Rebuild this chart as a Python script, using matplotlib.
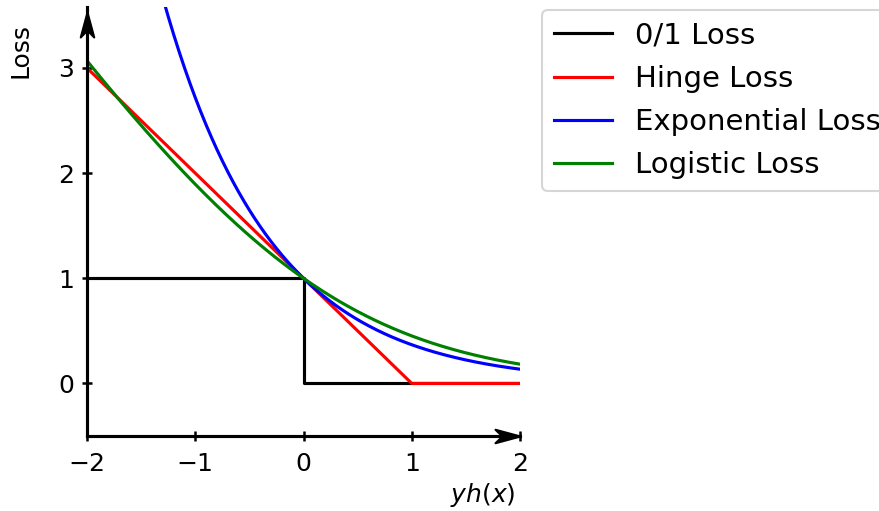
import numpy as np
import matplotlib
matplotlib.use("Agg")
import matplotlib.pyplot as plt
from matplotlib.path import Path

# margin values yh(x) on which the losses are evaluated
margin = np.linspace(-2, 2, 401)

# 0/1 loss as a step: 1 left of zero, 0 right of zero
zero_one_x = [-2, 0, 0, 2]
zero_one_y = [1, 1, 0, 0]

loss_names = ["0/1 Loss", "Hinge Loss", "Exponential Loss", "Logistic Loss"]
loss_colors = ["black", "red", "blue", "green"]

x_ticks = [-2, -1, 0, 1, 2]
y_ticks = [0, 1, 2, 3]


def hinge(z):
    return np.maximum(0, 1 - z)


def exponential(z):
    return np.exp(-z)


def logistic(z):
    return np.log2(1 + np.exp(-z))


# arrow head with a notched back, tip sits at the origin
def arrow_head(angle):
    verts = np.array([[0, 0], [-1, 0.27], [-0.72, 0], [-1, -0.27], [0, 0]])
    c, s = np.cos(np.radians(angle)), np.sin(np.radians(angle))
    verts = verts @ np.array([[c, s], [-s, c]])
    codes = [Path.MOVETO, Path.LINETO, Path.LINETO, Path.LINETO, Path.CLOSEPOLY]
    return Path(verts, codes)


fig = plt.figure(figsize=(880 / 150, 511 / 150), dpi=150)
ax = fig.add_axes([87 / 880, 1 - 436 / 511, 433 / 880, (436 - 7) / 511])

ax.plot(zero_one_x, zero_one_y, color=loss_colors[0], lw=1.5, label=loss_names[0])
ax.plot(margin, hinge(margin), color=loss_colors[1], lw=1.5, label=loss_names[1])
ax.plot(margin, exponential(margin), color=loss_colors[2], lw=1.5, label=loss_names[2])
ax.plot(margin, logistic(margin), color=loss_colors[3], lw=1.5, label=loss_names[3])

ax.set_xlim(-2, 2)
ax.set_ylim(-0.5, 3.58)
ax.set_xticks(x_ticks)
ax.set_yticks(y_ticks)
ax.tick_params(labelsize=12, direction="inout", length=5, width=1.2)
ax.tick_params(axis="x", pad=5)

for side in ["top", "right"]:
    ax.spines[side].set_visible(False)
for side in ["left", "bottom"]:
    ax.spines[side].set_linewidth(1.5)

# arrow heads at the ends of the two axes
ax.plot(2, -0.5, marker=arrow_head(0), ms=24, color="black", clip_on=False)
ax.plot(-2, 3.53, marker=arrow_head(90), ms=24, color="black", clip_on=False)

ax.set_xlabel("$yh(x)$", fontsize=12, ha="right")
ax.xaxis.set_label_coords((515 - 87) / 433, -0.105)
ax.set_ylabel("Loss", fontsize=12)
ax.yaxis.set_label_coords(-0.1255, 0.8986)

ax.legend(loc="upper left", bbox_to_anchor=(542 / 880, 1 - 10 / 511),
          bbox_transform=fig.transFigure, borderaxespad=0, fontsize=14,
          labelspacing=0.52)

fig.savefig("out.png", dpi=150)
